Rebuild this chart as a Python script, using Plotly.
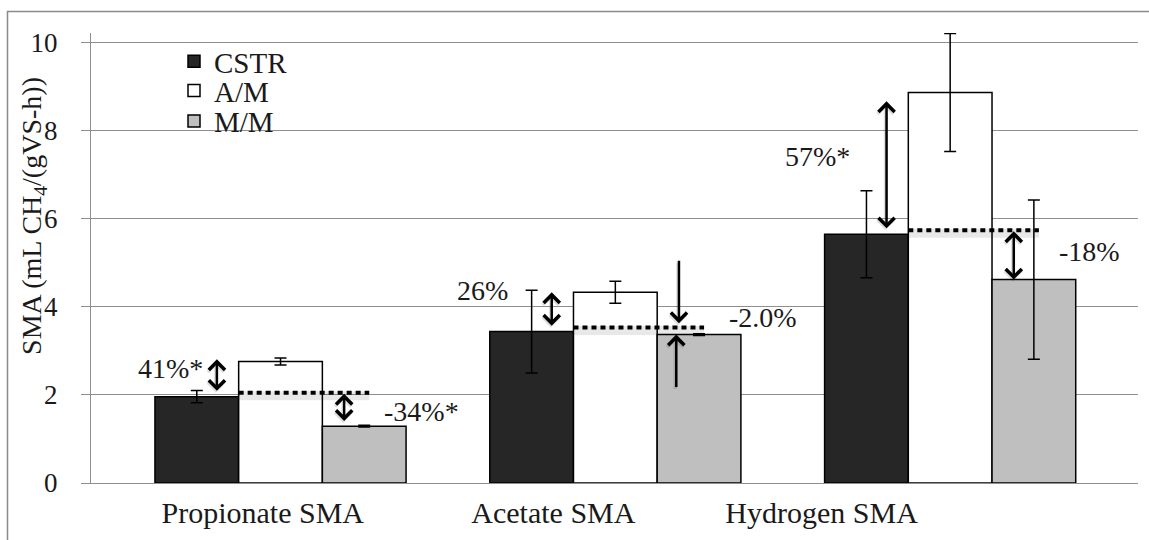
import plotly.graph_objects as go

# ---- data -------------------------------------------------------------
categories = ["Propionate SMA", "Acetate SMA", "Hydrogen SMA"]
series_names = ["CSTR", "A/M", "M/M"]
cstr_vals = [1.96, 3.44, 5.65]
am_vals = [2.76, 4.33, 8.87]
mm_vals = [1.29, 3.37, 4.62]
cstr_err = [0.14, 0.94, 0.99]
am_err = [0.08, 0.25, 1.34]
mm_err = [0.02, 0.02, 1.81]
inc_labels = ["41%*", "26%", "57%*"]      # A/M relative to CSTR
dec_labels = ["-34%*", "-2.0%", "-18%"]   # M/M relative to CSTR

# ---- styling ----------------------------------------------------------
FONT = "Liberation Serif, Times New Roman, serif"
TXT = "#1a1a1a"
GRID = "#8f8f8f"
colors = ["#262626", "#ffffff", "#bfbfbf"]

W, H = 1149, 540
ML, MR, MT, MB = 91, 11, 33, 47
XR = [-0.566, 2.561]
YR = [0, 10.22]
PW, PH = W - ML - MR, H - MT - MB


def px_x(px):
    return (px - ML) / PW


def px_y(py):
    return (H - MB - py) / PH


idx = list(range(len(categories)))
legend_ids = ["legend", "legend2", "legend3"]
fig = go.Figure()
for name, vals, errs, col, lg in zip(series_names, [cstr_vals, am_vals, mm_vals],
                                     [cstr_err, am_err, mm_err], colors, legend_ids):
    fig.add_trace(go.Bar(
        x=idx, y=vals, name=name, legend=lg,
        marker=dict(color=col, line=dict(color="black", width=1.5)),
        error_y=dict(type="data", array=errs, color="black", thickness=1.5, width=6),
    ))

shapes = []
annotations = []

# CSTR reference level, dotted across the A/M bar into the M/M bar
for i, c in enumerate(cstr_vals):
    for col, w, dy, dash in [("rgba(0,0,0,0.09)", 9, 3, "solid"),
                             ("black", 4, 0, "5px,4px")]:
        shapes.append(dict(
            type="line", xref="x", yref="y", ysizemode="pixel", yanchor=c,
            x0=i - 0.125, x1=i + 0.265, y0=4 - dy, y1=4 - dy,
            line=dict(color=col, width=w, dash=dash), layer="above"))

HEAD = 1.25


def arrow(x, y, ax, ay, both=True, pixel_tail=False):
    out = []
    for col, w, xs, ys in [("rgba(0,0,0,0.12)", 3.5, -1, -2), ("black", 2.5, 0, 0)]:
        size = HEAD * 2.5 / w
        a = dict(x=x, y=y, xref="x", yref="y", text="", showarrow=True,
                 arrowhead=4, arrowsize=size, arrowwidth=w, arrowcolor=col,
                 xshift=xs, yshift=ys)
        if pixel_tail:
            a.update(ax=ax, ay=ay)
        else:
            a.update(ax=ax, ay=ay, axref="x", ayref="y")
        if both:
            a.update(arrowside="end+start", startarrowhead=4, startarrowsize=size)
        out.append(a)
    return out


for i in idx:
    # increase of A/M over CSTR
    xi = i - 0.19
    if i == 0:
        annotations += arrow(xi, am_vals[i] + 0.05, xi, cstr_vals[i] + 0.1)
    else:
        annotations += arrow(xi, am_vals[i] - 0.2 * (i == 2), xi, cstr_vals[i] + 0.1)
    # decrease of M/M below CSTR
    xd = i + 0.19
    if i == 1:
        annotations += arrow(xd, cstr_vals[i] + 0.19, 0, -64, both=False, pixel_tail=True)
        annotations += arrow(xd - 0.008, mm_vals[i], 0, 54, both=False, pixel_tail=True)
    else:
        annotations += arrow(xd, mm_vals[i] + 0.12 * (i == 0), xd, cstr_vals[i] + 0.1)

# percentage labels
inc_pos = [(-0.329, 2.59), (0.604, 4.37), (1.604, 7.41)]
dec_pos = [(0.421, 1.63), (1.441, 3.76), (2.416, 5.26)]
for txt, (x, y) in zip(inc_labels + dec_labels, inc_pos + dec_pos):
    annotations.append(dict(x=x, y=y, xref="x", yref="y", text=txt, showarrow=False,
                            xanchor="center", yanchor="middle",
                            font=dict(family=FONT, size=28, color=TXT)))

# y-axis title
annotations.append(dict(
    x=px_x(34), y=px_y(220), xref="paper", yref="paper", showarrow=False,
    xanchor="center", yanchor="middle",
    text="SMA (mL CH<sub>4</sub>/(gVS-h))", textangle=-90,
    font=dict(family=FONT, size=28, color=TXT)))

# frame around the whole chart
shapes.append(dict(type="rect", xref="paper", yref="paper",
                   x0=px_x(7.5), x1=px_x(1170), y0=px_y(560), y1=px_y(11),
                   line=dict(color="#8a8a8a", width=1.5), fillcolor="rgba(0,0,0,0)",
                   layer="below"))

label_offsets = [-0.053, -0.185, -0.384]

legend_style = dict(xanchor="left", yanchor="middle", bgcolor="rgba(0,0,0,0)",
                    font=dict(family=FONT, size=29, color=TXT), itemclick=False,
                    borderwidth=0)
legend_rows = [62, 92, 123]

fig.update_layout(
    width=W, height=H, autosize=False,
    margin=dict(l=ML, r=MR, t=MT, b=MB, pad=0),
    paper_bgcolor="white", plot_bgcolor="white",
    barmode="group", bargap=0.25, bargroupgap=0,
    font=dict(family=FONT, color=TXT),
    showlegend=True,
    shapes=shapes, annotations=annotations,
    xaxis=dict(type="linear", range=XR, showgrid=False, zeroline=False,
               showline=True, linecolor=GRID, linewidth=1.3,
               tickvals=[i + o for i, o in zip(idx, label_offsets)],
               ticktext=categories, ticks="", ticklabelstandoff=3,
               tickfont=dict(family=FONT, size=30, color=TXT)),
    yaxis=dict(range=YR, tickvals=[0, 2, 4, 6, 8, 10], showgrid=True,
               gridcolor=GRID, gridwidth=1.3, zeroline=False,
               showline=True, linecolor=GRID, linewidth=1.3,
               ticks="outside", ticklen=9, tickcolor=GRID, tickwidth=1.3,
               ticklabelstandoff=18,
               tickfont=dict(family=FONT, size=27, color=TXT)),
)
for lg, row in zip(legend_ids, legend_rows):
    fig.update_layout({lg: dict(x=px_x(174), y=px_y(row), **legend_style)})

fig.write_html("out.html")
